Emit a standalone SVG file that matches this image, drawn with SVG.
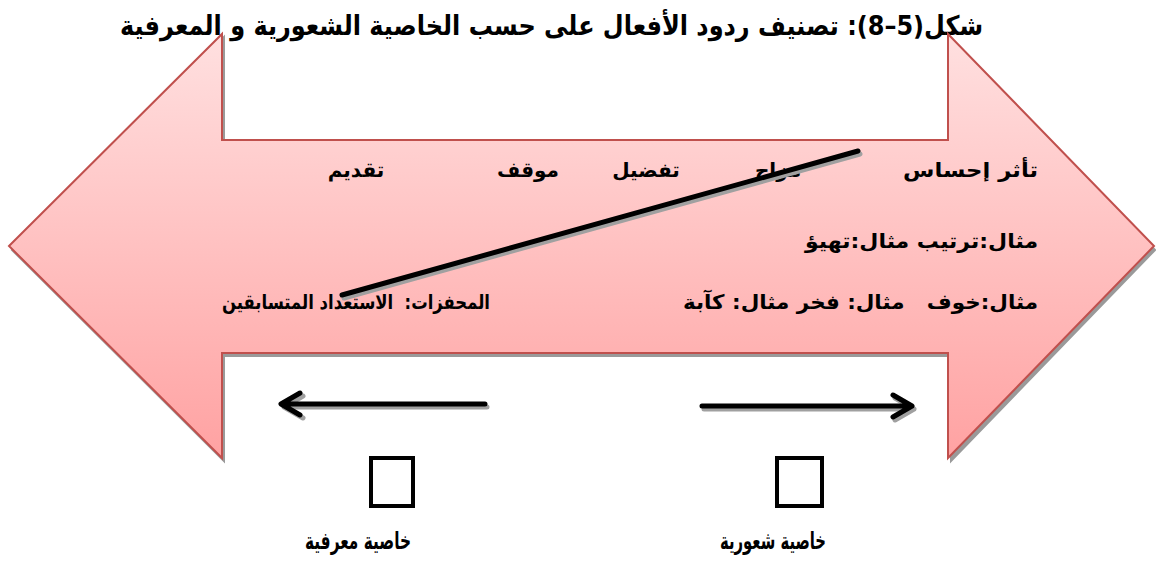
<svg xmlns="http://www.w3.org/2000/svg" width="1156" height="569" viewBox="0 0 1156 569">
  <defs>
    <linearGradient id="pinkGrad" x1="0" y1="34" x2="0" y2="458" gradientUnits="userSpaceOnUse">
      <stop offset="0" stop-color="#ffe0e0"/>
      <stop offset="1" stop-color="#ffa2a2"/>
    </linearGradient>
    <style>
      .title { font-family: "DejaVu Sans", "Liberation Sans", sans-serif; font-weight: bold; font-size: 27px; fill: #000; }
      .row { font-family: "DejaVu Sans", "Liberation Sans", sans-serif; font-weight: bold; font-size: 20px; fill: #000; }
      .lbl { font-family: "DejaVu Sans", "Liberation Sans", sans-serif; font-weight: bold; font-size: 24px; fill: #000; }
      .shape { fill: url(#pinkGrad); stroke: #c0504d; stroke-width: 2; stroke-linejoin: miter; }
      .shadow { fill: #9a9a9a; stroke: #9a9a9a; stroke-width: 2; }
      .ln { stroke: #000; stroke-width: 5; stroke-linecap: round; stroke-linejoin: round; fill: none; }
      .lnsh { stroke: #a0a0a0; stroke-width: 5; stroke-linecap: round; stroke-linejoin: round; fill: none; }
      .box { fill: #fff; stroke: #000; stroke-width: 4; }
    </style>
  </defs>
  <rect width="1156" height="569" fill="#fff"/>

  <g id="title">
    <text class="title" x="983" y="35" text-anchor="start" direction="rtl" textLength="863" lengthAdjust="spacingAndGlyphs">شكل(5–8): تصنيف ردود الأفعال على حسب الخاصية الشعورية و المعرفية</text>
  </g>

  <g id="double-arrow">
    <path class="shadow" d="M12,250 L224,37 L224,143 L951,143 L951,38 L1155,250 L951,461 L951,356 L224,356 L224,461 Z"/>
    <path class="shape" d="M9,246 L222,34 L222,140 L948,140 L948,34 L1154,246 L948,458 L948,353 L222,353 L222,458 Z"/>
  </g>

  <g id="row1">
    <text class="row" x="1038" y="177" text-anchor="start" direction="rtl" textLength="135" lengthAdjust="spacingAndGlyphs">تأثر إحساس</text>
    <text class="row" x="778" y="177" text-anchor="middle" direction="rtl">مزاج</text>
    <text class="row" x="646" y="177" text-anchor="middle" direction="rtl">تفضيل</text>
    <text class="row" x="528" y="177" text-anchor="middle" direction="rtl">موقف</text>
    <text class="row" x="356" y="177" text-anchor="middle" direction="rtl">تقديم</text>
  </g>

  <g id="row2">
    <text class="row" x="1038" y="248" text-anchor="start" direction="rtl" textLength="233" lengthAdjust="spacingAndGlyphs">مثال:ترتيب مثال:تهيؤ</text>
  </g>

  <g id="row3">
    <text class="row" x="1038" y="309" text-anchor="start" direction="rtl" xml:space="preserve" textLength="355" lengthAdjust="spacingAndGlyphs">مثال:خوف   مثال: فخر مثال: كآبة</text>
    <text class="row" x="490" y="309" text-anchor="start" direction="rtl" xml:space="preserve" textLength="268" lengthAdjust="spacingAndGlyphs">المحفزات:  الاستعداد المتسابقين</text>
  </g>

  <g id="connectors">
    <line class="lnsh" x1="860" y1="154" x2="344" y2="298"/>
    <line class="ln" x1="858" y1="151" x2="342" y2="295"/>
    <path class="lnsh" d="M487,407 L284,407 M303,396 L284,407 L303,418"/>
    <path class="ln" d="M485,404 L282,404 M300,393 L281,404 L300,415"/>
    <path class="lnsh" d="M704,409 L914,409 M895,398 L914,409 L895,420"/>
    <path class="ln" d="M702,406 L912,406 M893,395 L912,406 L893,417"/>
  </g>

  <g id="cognitive">
    <rect class="box" x="371" y="458" width="42" height="48"/>
    <text class="lbl" x="411" y="549" text-anchor="start" direction="rtl" textLength="106" lengthAdjust="spacingAndGlyphs">خاصية معرفية</text>
  </g>

  <g id="affective">
    <rect class="box" x="777" y="458" width="45" height="48"/>
    <text class="lbl" x="826" y="549" text-anchor="start" direction="rtl" textLength="106" lengthAdjust="spacingAndGlyphs">خاصية شعورية</text>
  </g>
</svg>
